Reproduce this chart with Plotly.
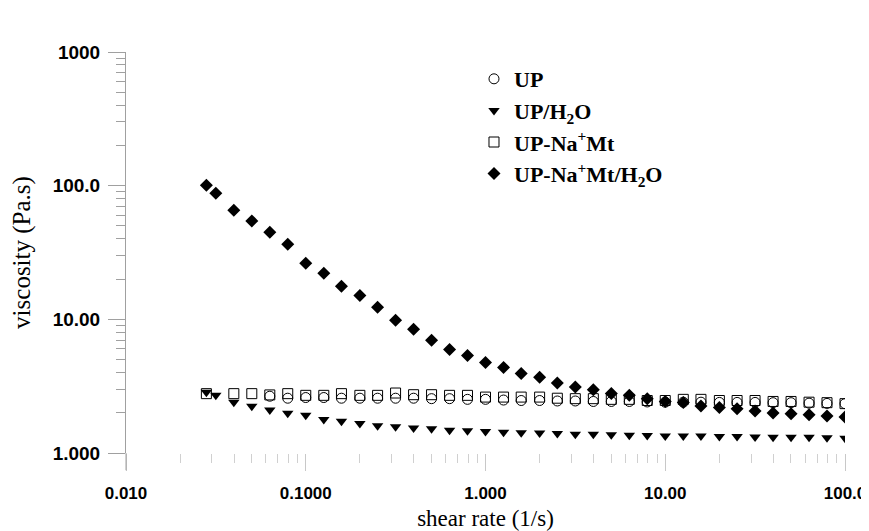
import plotly.graph_objects as go

# shear rate (1/s)
shear_rate = [0.028, 0.0316, 0.0398, 0.0501, 0.0631, 0.0794, 0.1, 0.126, 0.158, 0.2,
              0.251, 0.316, 0.398, 0.501, 0.631, 0.794, 1.0, 1.26, 1.58, 2.0,
              2.51, 3.16, 3.98, 5.01, 6.31, 7.94, 10.0, 12.6, 15.8, 20.0,
              25.1, 31.6, 39.8, 50.1, 63.1, 79.4, 100.0]

# viscosity (Pa.s)
up = [None, None, None, None, 2.66, 2.57, 2.60, 2.60, 2.57, 2.57,
      2.57, 2.57, 2.57, 2.55, 2.55, 2.52, 2.52, 2.49, 2.47, 2.47,
      2.45, 2.45, 2.43, 2.43, 2.43, 2.41, 2.40, 2.40, 2.40, 2.39,
      2.39, 2.39, 2.38, 2.38, 2.36, 2.35, 2.34]

up_h2o = [2.85, 2.71, 2.40, 2.24, 2.10, 1.98, 1.92, 1.78, 1.73, 1.66,
          1.60, 1.57, 1.54, 1.52, 1.48, 1.47, 1.45, 1.43, 1.42, 1.41,
          1.40, 1.38, 1.38, 1.37, 1.36, 1.35, 1.34, 1.34, 1.34, 1.33,
          1.33, 1.32, 1.31, 1.31, 1.31, 1.30, 1.29]

up_namt = [2.78, None, 2.78, 2.78, 2.72, 2.78, 2.70, 2.70, 2.78, 2.70,
           2.70, 2.81, 2.73, 2.73, 2.70, 2.70, 2.62, 2.62, 2.62, 2.62,
           2.57, 2.55, 2.55, 2.52, 2.52, 2.47, 2.47, 2.52, 2.52, 2.47,
           2.47, 2.47, 2.43, 2.43, 2.40, 2.38, 2.34]

up_namt_h2o = [100.9, 87.9, 65.5, 54.5, 44.8, 36.5, 26.3, 22.1, 17.7, 15.1,
               12.3, 9.83, 8.42, 6.96, 5.96, 5.37, 4.76, 4.37, 3.94, 3.68,
               3.34, 3.12, 2.97, 2.79, 2.70, 2.55, 2.43, 2.39, 2.25, 2.19,
               2.14, 2.06, 1.99, 1.97, 1.93, 1.89, 1.86]

series_names = ["UP", "UP/H<sub>2</sub>O", "UP-Na<sup>+</sup>Mt",
                "UP-Na<sup>+</sup>Mt/H<sub>2</sub>O"]

x_tickvals = [0.01, 0.1, 1, 10, 100]
x_ticktext = ["0.010", "0.1000", "1.000", "10.00", "100.0"]
y_tickvals = [1, 10, 100, 1000]
y_ticktext = ["1.000", "10.00", "100.0", "1000"]

fig = go.Figure()
fig.add_trace(go.Scatter(x=shear_rate, y=up, mode="markers", name=series_names[0],
                         marker=dict(symbol="circle-open", size=10, color="black",
                                     line=dict(width=1, color="black"))))
fig.add_trace(go.Scatter(x=shear_rate, y=up_h2o, mode="markers", name=series_names[1],
                         marker=dict(symbol="triangle-down", size=10, color="black")))
fig.add_trace(go.Scatter(x=shear_rate, y=up_namt, mode="markers", name=series_names[2],
                         marker=dict(symbol="square-open", size=10, color="black",
                                     line=dict(width=1, color="black"))))
fig.add_trace(go.Scatter(x=shear_rate, y=up_namt_h2o, mode="markers", name=series_names[3],
                         marker=dict(symbol="diamond", size=10, color="black")))

minor_x = [m * 10 ** e for e in range(-2, 2) for m in range(2, 10)]
minor_y = [m * 10 ** e for e in range(0, 3) for m in range(2, 10)]

tick_font = "Arial, 'Liberation Sans', sans-serif"
title_font = "'Times New Roman', 'Liberation Serif', serif"

# The page body adds an 8px margin, so the figure is offset accordingly.
fig.update_layout(
    width=869, height=523,
    margin=dict(l=118, r=32, t=44, b=78, autoexpand=False),
    paper_bgcolor="white", plot_bgcolor="white",
    showlegend=True,
    legend=dict(x=0.484, y=0.985, xanchor="left", yanchor="top",
                bgcolor="rgba(0,0,0,0)",
                font=dict(family=title_font, size=22, color="black", weight="bold"),
                tracegroupgap=0),
    xaxis=dict(type="log", range=[-2, 2], showgrid=False, zeroline=False, automargin=False,
               showline=False, ticks="outside", ticklen=17, tickcolor="#c8c8c8",
               tickwidth=1, tickmode="array", tickvals=x_tickvals, ticktext=x_ticktext,
               ticklabelstandoff=8,
               tickfont=dict(family=tick_font, size=17, color="black", weight="bold"),
               minor=dict(tickmode="array", tickvals=minor_x, ticks="outside", ticklen=9,
                          tickcolor="#d0d0d0", showgrid=False),
               title=dict(text="shear rate (1/s)", standoff=18,
                          font=dict(family=title_font, size=23, color="black"))),
    yaxis=dict(type="log", range=[0, 3], showgrid=False, zeroline=False, automargin=False,
               showline=True, linecolor="#a0a0a0", linewidth=1,
               ticks="outside", ticklen=17, tickcolor="#a0a0a0", tickwidth=1,
               tickmode="array", tickvals=y_tickvals, ticktext=y_ticktext,
               ticklabelstandoff=4,
               tickfont=dict(family=tick_font, size=19, color="black", weight="bold"),
               minor=dict(tickmode="array", tickvals=minor_y, ticks="outside", ticklen=9,
                          tickcolor="#a0a0a0", showgrid=False),
               title=dict(text="viscosity (Pa.s)", standoff=14,
                          font=dict(family=title_font, size=25, color="black"))),
)

# small extension of the value axis line below the category axis (as in the original)
fig.add_shape(type="line", xref="paper", yref="paper", x0=0, x1=0, y0=-0.043, y1=0,
              line=dict(color="#a0a0a0", width=1))

fig.write_html("out.html")
